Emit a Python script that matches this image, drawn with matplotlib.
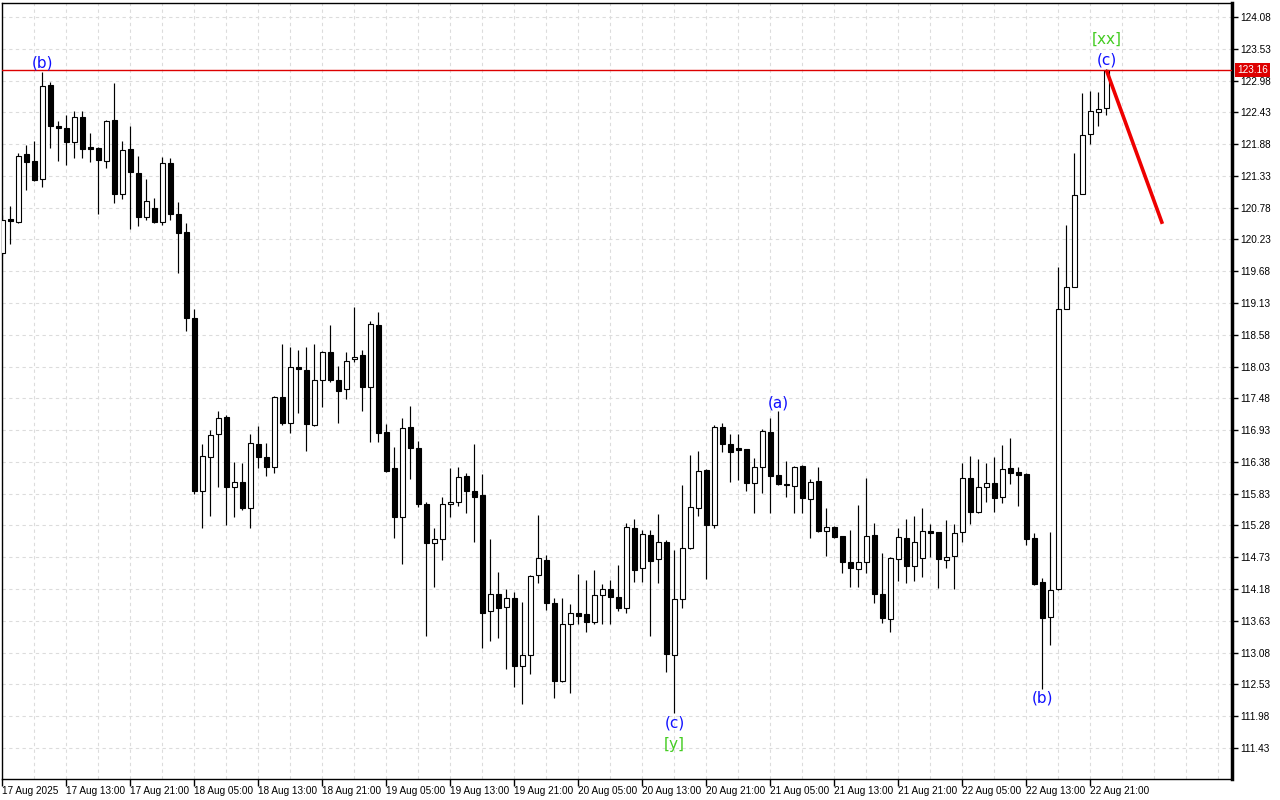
import matplotlib
matplotlib.use('Agg')
import matplotlib.pyplot as plt
import numpy as np
from matplotlib.ticker import FixedLocator

# ---------------- data (hourly candles, 17 Aug 05:00 .. 22 Aug 23:00) ----------------
opens = [120.00, 120.58, 120.53, 121.71, 121.59, 121.28, 122.90, 122.19, 122.16, 121.92,
         122.35, 121.81, 121.81, 121.59, 122.30, 121.02, 121.80, 121.38, 120.62, 120.77,
         120.53, 121.55, 120.67, 120.36, 118.87, 115.88, 116.46, 116.86, 117.16, 115.95,
         116.03, 115.58, 116.69, 116.46, 116.29, 117.50, 117.05, 118.02, 117.97, 117.02,
         117.80, 118.28, 117.80, 117.64, 118.16, 118.23, 117.68, 118.75, 116.90, 116.27,
         115.43, 116.98, 116.62, 115.65, 114.98, 115.05, 115.65, 115.69, 116.14, 115.88,
         115.81, 113.80, 114.09, 113.87, 114.02, 112.85, 113.04, 114.42, 114.68, 113.94,
         112.59, 113.58, 113.77, 113.75, 113.61, 114.08, 114.18, 114.04, 113.85, 115.24,
         114.54, 115.12, 114.70, 114.99, 113.04, 114.01, 114.89, 115.58, 116.24, 115.29,
         116.98, 116.69, 116.60, 116.60, 116.01, 116.29, 116.90, 116.15, 116.00, 115.96,
         116.31, 115.74, 116.05, 115.18, 115.25, 115.10, 114.65, 114.53, 114.65, 115.12,
         114.09, 113.66, 114.70, 115.06, 114.58, 114.72, 115.18, 115.17, 114.68, 114.75,
         115.17, 116.10, 115.51, 115.95, 116.01, 115.77, 116.27, 116.20, 116.17, 115.06,
         114.30, 113.70, 114.18, 119.03, 119.41, 121.02, 122.05, 122.43, 122.50]
highs = [120.65, 120.81, 121.73, 121.86, 121.93, 123.13, 122.95, 122.28, 122.38, 122.45,
         122.45, 122.07, 121.83, 122.30, 122.94, 121.93, 122.19, 121.67, 121.28, 120.95,
         121.66, 121.64, 120.88, 120.52, 119.03, 116.69, 116.93, 117.26, 117.19, 116.38,
         116.36, 116.86, 117.00, 116.71, 117.52, 118.42, 118.37, 118.32, 118.37, 118.42,
         118.30, 118.75, 118.04, 118.28, 119.06, 118.32, 118.82, 118.97, 117.04, 116.64,
         117.14, 117.35, 116.74, 115.69, 115.24, 115.77, 116.27, 116.29, 116.19, 116.69,
         116.17, 115.05, 114.48, 114.18, 114.13, 113.96, 114.42, 115.46, 114.77, 114.02,
         114.02, 113.92, 114.44, 114.34, 114.51, 114.27, 114.34, 114.60, 115.32, 115.39,
         115.20, 115.20, 115.48, 115.03, 114.86, 115.98, 116.50, 116.57, 116.26, 117.02,
         117.05, 116.86, 116.86, 116.61, 116.45, 116.95, 117.14, 117.26, 116.40, 116.31,
         116.32, 116.08, 116.29, 115.58, 115.27, 115.10, 115.20, 115.63, 116.10, 115.32,
         114.80, 114.73, 115.24, 115.39, 115.44, 115.58, 115.31, 115.17, 115.37, 115.31,
         116.36, 116.48, 116.43, 116.36, 116.46, 116.67, 116.79, 116.29, 116.18, 115.15,
         114.37, 115.17, 119.75, 120.48, 121.73, 122.76, 122.80, 122.78, 123.18]
lows = [119.94, 120.15, 120.52, 121.09, 121.25, 121.14, 121.81, 121.59, 121.52, 121.64,
        121.64, 121.57, 120.67, 121.47, 120.86, 120.93, 120.41, 120.46, 120.57, 120.52,
        120.48, 120.57, 119.65, 118.65, 115.82, 115.24, 115.44, 115.95, 115.29, 115.43,
        115.55, 115.24, 116.27, 116.14, 116.19, 117.02, 116.88, 117.23, 116.57, 117.00,
        117.33, 117.76, 117.05, 117.47, 118.11, 117.26, 116.72, 116.72, 116.20, 115.06,
        114.61, 116.08, 115.60, 113.37, 114.22, 114.68, 115.43, 115.62, 115.50, 114.99,
        113.16, 113.28, 113.33, 112.80, 112.48, 112.19, 112.71, 114.28, 113.82, 112.29,
        112.57, 112.38, 113.58, 113.44, 113.58, 113.58, 113.58, 113.80, 113.77, 114.30,
        114.30, 113.37, 114.28, 112.74, 112.03, 113.85, 114.88, 115.44, 114.35, 115.24,
        116.55, 116.03, 116.07, 115.88, 115.50, 115.84, 115.50, 115.98, 115.77, 115.50,
        115.50, 115.06, 115.17, 114.75, 115.07, 114.46, 114.22, 114.22, 114.46, 113.94,
        113.59, 113.44, 114.32, 114.28, 114.32, 114.39, 114.73, 114.20, 114.54, 114.18,
        114.99, 115.31, 115.50, 115.69, 115.51, 115.67, 116.00, 115.62, 114.94, 114.25,
        112.45, 113.21, 114.17, 119.02, 119.40, 121.01, 121.88, 122.19, 122.38]
closes = [120.57, 120.55, 121.67, 121.57, 121.26, 122.89, 122.19, 122.16, 121.92, 122.35,
          121.80, 121.80, 121.60, 122.28, 121.02, 121.78, 121.40, 120.62, 120.90, 120.53,
          121.55, 120.67, 120.34, 118.87, 115.88, 116.48, 116.85, 117.14, 115.95, 116.03,
          115.58, 116.71, 116.46, 116.29, 117.50, 117.05, 118.02, 117.99, 117.04, 117.80,
          118.28, 117.80, 117.61, 118.13, 118.20, 117.68, 118.77, 116.88, 116.22, 115.43,
          116.97, 116.62, 115.65, 114.98, 115.05, 115.65, 115.69, 116.12, 115.88, 115.77,
          113.77, 114.09, 113.85, 114.02, 112.85, 113.04, 114.41, 114.72, 113.94, 112.59,
          113.58, 113.77, 113.71, 113.61, 114.08, 114.18, 114.04, 113.85, 115.25, 114.51,
          115.13, 114.67, 114.99, 113.06, 114.01, 114.89, 115.60, 116.22, 115.29, 116.98,
          116.69, 116.55, 116.59, 116.01, 116.29, 116.91, 116.14, 116.00, 115.98, 116.29,
          115.75, 116.03, 115.18, 115.25, 115.08, 114.65, 114.54, 114.65, 115.10, 114.09,
          113.68, 114.72, 115.08, 114.58, 114.99, 115.18, 115.15, 114.70, 114.73, 115.15,
          116.10, 115.51, 115.95, 116.01, 115.75, 116.26, 116.19, 116.15, 115.05, 114.27,
          113.68, 114.16, 119.03, 119.41, 121.00, 122.04, 122.45, 122.49, 123.16]

x_tick_bars = [0, 8, 16, 24, 32, 40, 48, 56, 64, 72, 80, 88, 96, 104, 112, 120, 128, 136]
x_tick_labels = ['17 Aug 2025', '17 Aug 13:00', '17 Aug 21:00', '18 Aug 05:00', '18 Aug 13:00',
                 '18 Aug 21:00', '19 Aug 05:00', '19 Aug 13:00', '19 Aug 21:00', '20 Aug 05:00',
                 '20 Aug 13:00', '20 Aug 21:00', '21 Aug 05:00', '21 Aug 13:00', '21 Aug 21:00',
                 '22 Aug 05:00', '22 Aug 13:00', '22 Aug 21:00']
y_ticks = [111.43, 111.98, 112.53, 113.08, 113.63, 114.18, 114.73, 115.28, 115.83, 116.38,
           116.93, 117.48, 118.03, 118.58, 119.13, 119.68, 120.23, 120.78, 121.33, 121.88,
           122.43, 122.98, 123.53, 124.08]

current_price = 123.16
wave_text = ['(b)', '(a)', '(c)', '(b)', '(c)']
wave_bar = [5, 97, 84, 130, 138]
wave_side = ['above', 'above', 'below', 'below', 'above']
major_text = ['[y]', '[xx]']
major_bar = [84, 138]
major_side = ['below', 'above']
forecast_bars = [138, 145]
forecast_prices = [123.16, 120.50]

# ---------------- figure ----------------
fig = plt.figure(figsize=(12.8, 8), dpi=100)
ax = fig.add_axes([2 / 1280, 21 / 800, 1230 / 1280, 776 / 800])
ax.set_facecolor('white')

o = np.array(opens); h = np.array(highs); l = np.array(lows); c = np.array(closes)
xs = np.arange(len(o))
up = c >= o

# grid
grid_kw = dict(color='#dcdcdc', linewidth=0.8, linestyle=(0, (3, 3)), zorder=0)
for yv in y_ticks:
    ax.axhline(yv, **grid_kw)
for xv in range(0, 156, 4):
    ax.axvline(xv, **grid_kw)

# candles
ax.vlines(xs, l, h, color='black', linewidth=0.85, zorder=2)
body_bottom = np.minimum(o, c)
body_h = np.maximum(np.abs(c - o), 0.025)
ax.bar(xs, body_h, bottom=body_bottom, width=0.62,
       color=np.where(up, 'white', 'black'), edgecolor='black', linewidth=0.8, zorder=3)

# current price line
ax.axhline(current_price, color='#dd0000', linewidth=1.0, zorder=4)

# forecast line
ax.plot(forecast_bars, forecast_prices, color='#ee0000', linewidth=2.6, zorder=5,
        solid_capstyle='butt')

# wave labels
lab_font = dict(fontsize=11, family='DejaVu Sans')
for t, b, s in zip(wave_text, wave_bar, wave_side):
    if s == 'above':
        ax.annotate(t, xy=(b, h[b]), xytext=(0, 1), textcoords='offset pixels',
                    ha='center', va='bottom', color='#1010ff', zorder=6, **lab_font)
    else:
        ax.annotate(t, xy=(b, l[b]), xytext=(0, -2), textcoords='offset pixels',
                    ha='center', va='top', color='#1010ff', zorder=6, **lab_font)
for t, b, s in zip(major_text, major_bar, major_side):
    if s == 'above':
        ax.annotate(t, xy=(b, h[b]), xytext=(0, 22), textcoords='offset pixels',
                    ha='center', va='bottom', color='#44cc22', zorder=6, **lab_font)
    else:
        ax.annotate(t, xy=(b, l[b]), xytext=(0, -24), textcoords='offset pixels',
                    ha='center', va='top', color='#44cc22', zorder=6, **lab_font)

# limits
ax.set_xlim(-0.06, 153.7)
ax.set_ylim(110.892, 124.322)

# axes styling
for side in ['top', 'left', 'bottom']:
    ax.spines[side].set_linewidth(1.0)
    ax.spines[side].set_color('black')
ax.spines['right'].set_linewidth(2.5)
ax.spines['right'].set_color('black')

ax.yaxis.tick_right()
ax.yaxis.set_major_locator(FixedLocator(y_ticks))
ax.set_yticklabels([f'{v:.2f}' for v in y_ticks])
ax.tick_params(axis='y', which='major', length=4, width=1, pad=2, labelsize=7.2,
               colors='black', direction='out')

ax.xaxis.set_major_locator(FixedLocator(x_tick_bars))
ax.set_xticklabels(x_tick_labels)
ax.tick_params(axis='x', which='major', length=5, width=1, pad=0, labelsize=7.2,
               colors='black', direction='out')
for lab in ax.get_xticklabels():
    lab.set_ha('left')
    lab.set_family('Liberation Sans')
for lab in ax.get_yticklabels():
    lab.set_family('Liberation Sans')

# current price tag on right axis
ax.annotate(f'{current_price:.2f}', xy=(1, current_price), xycoords=('axes fraction', 'data'),
            xytext=(5, 0), textcoords='offset pixels', ha='left', va='center',
            fontsize=7.2, family='Liberation Sans', color='white', zorder=10,
            annotation_clip=False,
            bbox=dict(boxstyle='square,pad=0.18', facecolor='#dd0000', edgecolor='none'))

fig.savefig('out.png', dpi=100, facecolor='white')
